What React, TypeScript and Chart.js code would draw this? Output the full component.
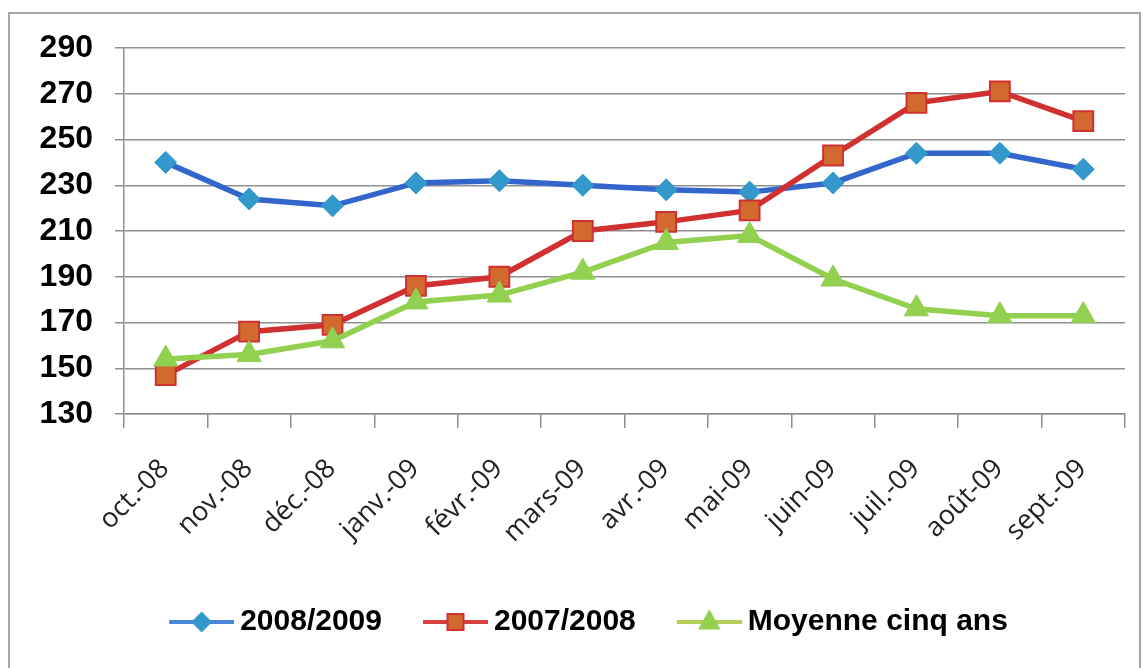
import React, { useEffect, useRef } from 'react';
import { Chart, registerables } from 'chart.js';

Chart.register(...registerables);

// ---- Data ----
const categories = [
  'oct.-08', 'nov.-08', 'déc.-08', 'janv.-09', 'févr.-09', 'mars-09',
  'avr.-09', 'mai-09', 'juin-09', 'juil.-09', 'août-09', 'sept.-09',
];
const seriesNames = ['2008/2009', '2007/2008', 'Moyenne cinq ans'];
const values20082009 = [240, 224, 221, 231, 232, 230, 228, 227, 231, 244, 244, 237];
const values20072008 = [147, 166, 169, 186, 190, 210, 214, 219, 243, 266, 271, 258];
const valuesMoyenne = [154, 156, 162, 179, 182, 192, 205, 208, 189, 176, 173, 173];
const yMin = 130;
const yMax = 290;
const yStep = 20;

// ---- Styles ----
const BLUE_LINE = '#3366cc';
const BLUE_MARK = '#3399cc';
const RED_LINE = '#d03030';
const RED_MARK = '#d2692e';
const GREEN_LINE = '#92d050';
const GREEN_MARK = '#92d050';
const GRID = '#8f8f8f';

function makeLegendIcon(lineColor: string, fill: string, stroke: string, shape: string) {
  const c = document.createElement('canvas');
  c.width = 105;
  c.height = 30;
  const ctx = c.getContext('2d') as CanvasRenderingContext2D;
  const cy = 15;
  ctx.strokeStyle = lineColor;
  ctx.lineWidth = 4;
  ctx.beginPath();
  ctx.moveTo(40, cy);
  ctx.lineTo(105, cy);
  ctx.stroke();
  const cx = 72.5;
  ctx.fillStyle = fill;
  ctx.strokeStyle = stroke;
  ctx.lineWidth = 2;
  ctx.beginPath();
  if (shape === 'diamond') {
    const r = 9;
    ctx.moveTo(cx, cy - r);
    ctx.lineTo(cx + r, cy);
    ctx.lineTo(cx, cy + r);
    ctx.lineTo(cx - r, cy);
    ctx.closePath();
  } else if (shape === 'square') {
    const s = 8;
    ctx.rect(cx - s, cy - s, 2 * s, 2 * s);
  } else {
    const r = 11;
    ctx.moveTo(cx, cy - r);
    ctx.lineTo(cx + r * 0.866, cy + r * 0.5 + 1);
    ctx.lineTo(cx - r * 0.866, cy + r * 0.5 + 1);
    ctx.closePath();
  }
  ctx.fill();
  ctx.stroke();
  return c;
}

const framePlugin = {
  id: 'frame',
  beforeDraw(chart: any) {
    const ctx = chart.ctx as CanvasRenderingContext2D;
    ctx.save();
    ctx.fillStyle = '#ffffff';
    ctx.fillRect(0, 0, chart.width, chart.height);
    ctx.strokeStyle = '#a6a6a6';
    ctx.lineWidth = 2;
    ctx.strokeRect(9, 13, 1131, 700);
    ctx.restore();
  },
};

export default function App() {
  const ref = useRef<HTMLCanvasElement | null>(null);

  useEffect(() => {
    if (!ref.current) return;
    const icons = [
      makeLegendIcon('#4a86d8', BLUE_MARK, BLUE_MARK, 'diamond'),
      makeLegendIcon('#d84040', RED_MARK, '#d03030', 'square'),
      makeLegendIcon('#b5cf5a', GREEN_MARK, GREEN_MARK, 'triangle'),
    ];
    const chart = new Chart(ref.current, {
      type: 'line',
      data: {
        labels: categories,
        datasets: [
          {
            label: seriesNames[0],
            data: values20082009,
            borderColor: BLUE_LINE,
            borderWidth: 5.5,
            backgroundColor: BLUE_MARK,
            pointStyle: 'rectRot',
            pointRadius: 11,
            pointBackgroundColor: BLUE_MARK,
            pointBorderColor: BLUE_MARK,
            pointBorderWidth: 1,
            tension: 0,
            order: 3,
          },
          {
            label: seriesNames[1],
            data: values20072008,
            borderColor: RED_LINE,
            borderWidth: 5.5,
            backgroundColor: RED_MARK,
            pointStyle: 'rect',
            pointRadius: 14,
            pointBackgroundColor: RED_MARK,
            pointBorderColor: RED_LINE,
            pointBorderWidth: 2,
            tension: 0,
            order: 2,
          },
          {
            label: seriesNames[2],
            data: valuesMoyenne,
            borderColor: GREEN_LINE,
            borderWidth: 5.5,
            backgroundColor: GREEN_MARK,
            pointStyle: 'triangle',
            pointRadius: 14,
            pointBackgroundColor: GREEN_MARK,
            pointBorderColor: GREEN_MARK,
            pointBorderWidth: 1,
            tension: 0,
            order: 1,
          },
        ],
      },
      options: {
        responsive: false,
        animation: false,
        layout: { padding: { left: 21, right: 21, top: 48, bottom: 21 } },
        plugins: {
          tooltip: { enabled: false },
          title: { display: false },
          legend: {
            display: true,
            position: 'bottom',
            align: 'center',
            labels: {
              usePointStyle: true,
              pointStyleWidth: 87,
              padding: 10,
              color: '#000000',
              font: { family: "'Liberation Sans', Arial, sans-serif", size: 30, weight: 'bold' },
              generateLabels: () =>
                seriesNames.map((name, i) => ({
                  text: name,
                  pointStyle: icons[i] as any,
                  fillStyle: 'transparent',
                  strokeStyle: 'transparent',
                  lineWidth: 0,
                  hidden: false,
                  datasetIndex: i,
                  fontColor: '#000000',
                })),
            },
          },
        },
        scales: {
          x: {
            type: 'category',
            offset: true,
            grid: {
              display: true,
              offset: true,
              drawOnChartArea: false,
              drawTicks: true,
              tickLength: 14,
              color: GRID,
              lineWidth: 1.5,
            },
            border: { display: true, color: GRID, width: 1.5 },
            ticks: {
              autoSkip: false,
              maxRotation: 45,
              minRotation: 45,
              padding: 25,
              labelOffset: -1,
              color: '#222222',
              font: { family: "'Open Sans', Lato, sans-serif", size: 27 },
            },
            afterFit: (scale: any) => {
              scale.height = 183;
            },
          },
          y: {
            min: yMin,
            max: yMax,
            grid: {
              display: true,
              drawTicks: true,
              tickLength: 9,
              color: GRID,
              lineWidth: 1.5,
            },
            border: { display: true, color: GRID, width: 1.5 },
            ticks: {
              stepSize: yStep,
              padding: 22,
              color: '#000000',
              font: { family: "'Liberation Sans', Arial, sans-serif", size: 32, weight: 'bold' },
            },
            afterFit: (scale: any) => {
              scale.width = 103;
            },
          },
        },
      },
      plugins: [framePlugin],
    });
    return () => chart.destroy();
  }, []);

  return (
    <div style={{ position: 'absolute', left: 0, top: 0, width: 1146, height: 668, background: '#fff' }}>
      <canvas ref={ref} width={1146} height={668} style={{ display: 'block', width: 1146, height: 668 }} />
    </div>
  );
}
